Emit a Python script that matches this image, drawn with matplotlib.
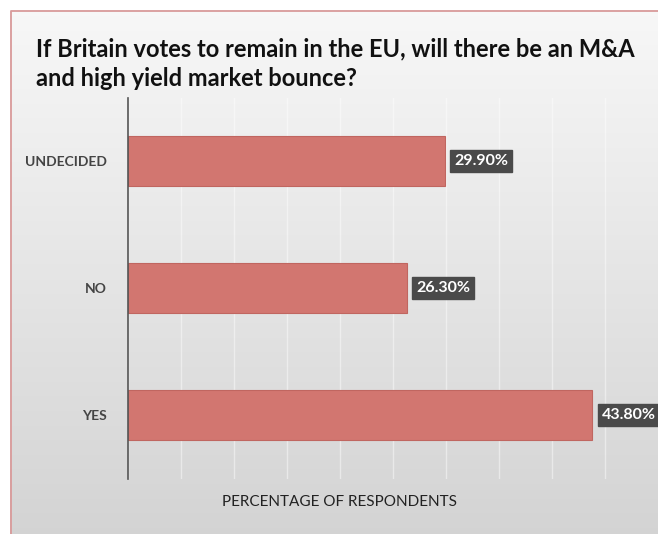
import numpy as np
import matplotlib.pyplot as plt
from matplotlib.lines import Line2D

# Survey answers, bottom to top
categories = ['YES', 'NO', 'UNDECIDED']
shares = [43.8, 26.3, 29.9]
value_labels = ['43.80%', '26.30%', '29.90%']

title = 'If Britain votes to remain in the EU, will there be an M&A\nand high yield market bounce?'
x_label = 'PERCENTAGE OF RESPONDENTS'

plt.rcParams['font.family'] = ['Lato', 'DejaVu Sans']

fig = plt.figure(figsize=(6.58, 5.34), dpi=100)
fig.patch.set_facecolor('white')

# grey panel with a soft vertical gradient, pink edge on the left and top
bg = fig.add_axes([0, 0, 1, 1], zorder=-10)
grad = np.linspace(0.97, 0.83, 256).reshape(-1, 1)
bg.imshow(np.dstack([grad, grad, grad]), aspect='auto',
          extent=[10 / 658, 1, 0, 1 - 10 / 534], origin='upper')
fx, fy = 10.5 / 658, 1 - 10.5 / 534
bg.add_line(Line2D([fx, fx, 1], [0, fy, fy], color='#d99a9a', linewidth=1.3))
bg.set_xlim(0, 1)
bg.set_ylim(0, 1)
bg.axis('off')

ax = fig.add_axes([128 / 658, 55.5 / 534, 530 / 658, 381 / 534])
ax.patch.set_alpha(0)

y = np.arange(len(categories))
ax.barh(y, shares, height=0.4, color='#d27670', edgecolor='#c06660', linewidth=0.8, zorder=3)

for yi, v, lab in zip(y, shares, value_labels):
    ax.text(v + 0.9, yi, lab, ha='left', va='center', color='white', fontsize=11.5,
            fontweight='bold', zorder=4,
            bbox=dict(boxstyle='square,pad=0.25', facecolor='#4a4a4a', edgecolor='#4a4a4a'))

ax.set_xlim(0, 50)
ax.set_ylim(-0.5, 2.5)
ax.set_xticks(np.arange(0, 50, 5))
ax.set_xticklabels([])
ax.set_yticks(y)
ax.set_yticklabels(categories, fontsize=10, fontweight='bold', color='#444444')
ax.tick_params(axis='both', length=0)
ax.tick_params(axis='y', pad=15)
ax.grid(axis='x', color='white', alpha=0.45, linewidth=1, zorder=0)

for s in ['top', 'right', 'bottom']:
    ax.spines[s].set_visible(False)
ax.spines['left'].set_color('#555555')
ax.spines['left'].set_linewidth(1.2)
ax.spines['left'].set_zorder(5)

fig.text(340 / 658, 1 - 502 / 534, x_label, ha='center', va='center',
         fontsize=11, color='#222222')
fig.text(36 / 658, 1 - 64 / 534, title, ha='left', va='center', fontsize=17,
         fontweight='bold', color='#111111', linespacing=1.35)

fig.savefig('out.png', dpi=100)
